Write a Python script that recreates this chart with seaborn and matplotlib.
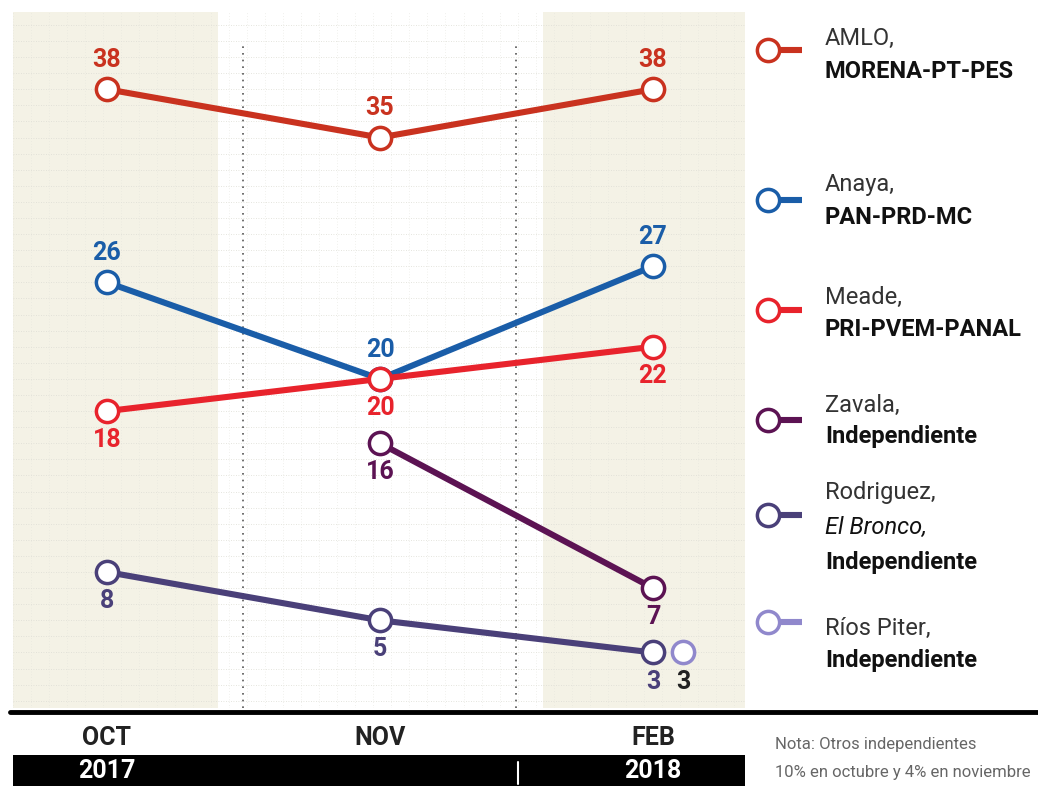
import pandas as pd
import matplotlib.pyplot as plt
import matplotlib.transforms as mtransforms
from matplotlib.patches import Rectangle
from matplotlib.lines import Line2D
import seaborn as sns

months = ["OCT", "NOV", "FEB"]
years = ["2017", "2018"]
candidates = ["AMLO", "Anaya", "Meade", "Zavala", "Rodriguez", "Ríos Piter"]
amlo = [38, 35, 38]
anaya = [26, 20, 27]
meade = [18, 20, 22]
zavala = [None, 16, 7]
rodriguez = [8, 5, 3]
rios_piter = [None, None, 3]

colors = {
    "AMLO": "#c9321f",
    "Anaya": "#1a5da8",
    "Meade": "#e8232c",
    "Zavala": "#5c1353",
    "Rodriguez": "#4a4079",
    "Ríos Piter": "#9088cc",
}
# label above (+1) or below (-1) each point
label_side = {
    "AMLO": [1, 1, 1],
    "Anaya": [1, 1, 1],
    "Meade": [-1, -1, -1],
    "Zavala": [-1, -1, -1],
    "Rodriguez": [-1, -1, -1],
    "Ríos Piter": [-1, -1, -1],
}
legend_names = [
    ("AMLO,", [("MORENA-PT-PES", "bold", "normal")]),
    ("Anaya,", [("PAN-PRD-MC", "bold", "normal")]),
    ("Meade,", [("PRI-PVEM-PANAL", "bold", "normal")]),
    ("Zavala,", [("Independiente", "bold", "normal")]),
    ("Rodriguez,", [("El Bronco,", "normal", "italic"), ("Independiente", "bold", "normal")]),
    ("Ríos Piter,", [("Independiente", "bold", "normal")]),
]
note_lines = ["Nota: Otros independientes", "10% en octubre y 4% en noviembre"]

series = [amlo, anaya, meade, zavala, rodriguez, rios_piter]
rows = []
for name, vals in zip(candidates, series):
    for m, v in zip(months, vals):
        if v is not None:
            rows.append({"candidate": name, "month": m, "value": v})
df = pd.DataFrame(rows)

sns.set_style("white")
plt.rcParams["font.family"] = ["Roboto", "DejaVu Sans"]

fig = plt.figure(figsize=(10.38, 7.86), dpi=100)
W, H = 1038, 786
ax = fig.add_axes([13 / W, 1 - 708 / H, (745 - 13) / W, (708 - 12) / H])

xmin, xmax = -0.344, 2.337
ymin, ymax = -0.45, 42.8

# background bands and texture
ax.axvspan(xmin, 0.407, color="#f4f2e6", zorder=0, lw=0)
ax.axvspan(1.597, xmax, color="#f4f2e6", zorder=0, lw=0)
for yy in range(0, 43):
    ax.axhline(yy, color="#dcdcd4", lw=0.6, ls=(0, (1, 2)), zorder=0.5)
for i in range(0, 41):
    ax.axvline(xmin + i * 0.066, color="#e4e4dc", lw=0.5, ls=(0, (1, 3)), zorder=0.5)
ax.vlines([0.5, 1.5], ymin, 40.8, color="#555555", lw=1.2, ls=(0, (1, 3)), zorder=1)

shift = mtransforms.ScaledTranslation(30 / 100, 0, fig.dpi_scale_trans)
for name in candidates:
    sub = df[df["candidate"] == name]
    c = colors[name]
    sns.lineplot(data=sub, x="month", y="value", color=c, lw=4.4, marker="o",
                 markersize=16, markerfacecolor="white", markeredgecolor=c,
                 markeredgewidth=2.5, ax=ax, legend=False, zorder=3)
    line = ax.lines[-1]
    if name == "Ríos Piter":
        line.set_transform(ax.transData + shift)
    for _, r in sub.iterrows():
        i = months.index(r["month"])
        side = label_side[name][i]
        tcol = "#222222" if name == "Ríos Piter" else c
        trans = ax.transData + shift if name == "Ríos Piter" else ax.transData
        ax.annotate(str(r["value"]), (i, r["value"]), xycoords=trans,
                    xytext=(0, 21 * side), textcoords="offset points",
                    ha="center", va="center", fontsize=18, fontweight="bold",
                    color=tcol, zorder=4)

ax.set_xlim(xmin, xmax)
ax.set_ylim(ymin, ymax)
ax.set_yticks([])
ax.set_xlabel("")
ax.set_ylabel("")
ax.set_xticks(range(len(months)))
ax.set_xticklabels(months, fontsize=18, fontweight="bold", color="#222222")
ax.tick_params(axis="x", length=0, pad=13)
for s in ax.spines.values():
    s.set_visible(False)

# black baseline
fig.add_artist(Line2D([10 / W, 1], [1 - 712 / H] * 2, color="black", lw=3.5,
                      transform=fig.transFigure))

# year bar
fig.add_artist(Rectangle((13 / W, 0), (745 - 13) / W, 31 / H, color="black",
                         transform=fig.transFigure, lw=0, zorder=1))
blend = mtransforms.blended_transform_factory(ax.transData, fig.transFigure)
fig.text(0, 1 - 771 / H, years[0], transform=blend, ha="center", va="center",
         fontsize=18, fontweight="bold", color="white", zorder=5)
fig.text(2, 1 - 771 / H, years[1], transform=blend, ha="center", va="center",
         fontsize=18, fontweight="bold", color="white", zorder=5)
fig.add_artist(Line2D([518 / W] * 2, [1 - 762 / H, 1 - 784 / H], color="white",
                      lw=1.5, transform=fig.transFigure, zorder=5))

# legend
lax = fig.add_axes([745 / W, 0, (W - 745) / W, 1])
lax.set_xlim(745, W)
lax.set_ylim(H, 0)
lax.axis("off")
entries = [
    (50, [38, 72]),
    (200, [185, 217]),
    (310, [297, 330]),
    (420, [405, 437]),
    (515, [492, 527, 563]),
    (622, [628, 660]),
]
for name, (my, tys), (first, rest) in zip(candidates, entries, legend_names):
    c = colors[name]
    lax.plot([768, 802], [my, my], color=c, lw=4.4, solid_capstyle="butt")
    lax.plot([768], [my], marker="o", markersize=16, markerfacecolor="white",
             markeredgecolor=c, markeredgewidth=2.5)
    lax.text(825, tys[0], first, fontsize=17, color="#333333", va="center")
    for (txt, wt, st), ty in zip(rest, tys[1:]):
        lax.text(825, ty, txt, fontsize=17, fontweight=wt, fontstyle=st,
                 color="#111111", va="center")

fig.text(775 / W, 1 - 745 / H, note_lines[0], fontsize=12, color="#666666",
         va="center")
fig.text(775 / W, 1 - 773 / H, note_lines[1], fontsize=12, color="#666666",
         va="center")

plt.savefig("out.png", dpi=100)
